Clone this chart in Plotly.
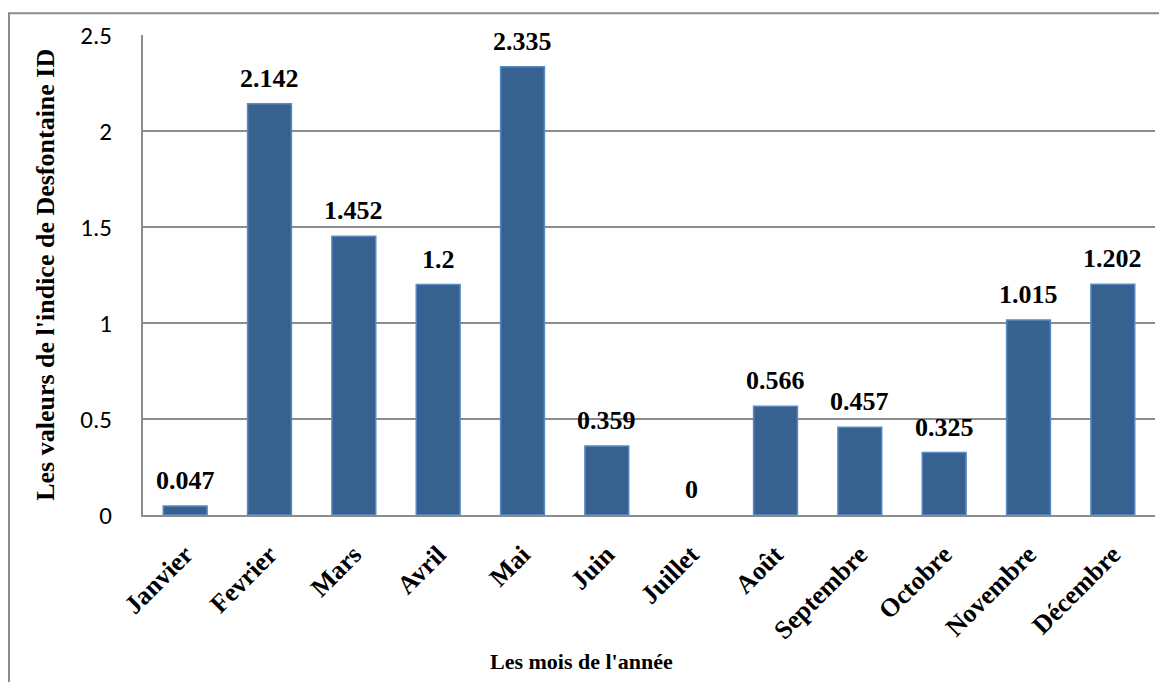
import plotly.graph_objects as go

months = ["Janvier", "Fevrier", "Mars", "Avril", "Mai", "Juin", "Juillet",
          "Août", "Septembre", "Octobre", "Novembre", "Décembre"]
values = [0.047, 2.142, 1.452, 1.2, 2.335, 0.359, 0, 0.566, 0.457, 0.325, 1.015, 1.202]
labels = ["0.047", "2.142", "1.452", "1.2", "2.335", "0.359", "0",
          "0.566", "0.457", "0.325", "1.015", "1.202"]
yticks = [0, 0.5, 1, 1.5, 2, 2.5]
ytick_text = ["0", "0.5", "1", "1.5", "2", "2.5"]

SERIF = "Liberation Serif, Times New Roman, serif"
SANS = "Liberation Sans Narrow, Carlito, Liberation Sans, sans-serif"

fig = go.Figure()
fig.add_trace(go.Bar(
    x=months, y=values,
    marker=dict(color="#37618F",
                line=dict(color="#5A8AC6", width=[0 if v == 0 else 1.5 for v in values])),
    hoverinfo="x+y",
))

for m, v, t in zip(months, values, labels):
    fig.add_annotation(x=m, y=v, text="<b>%s</b>" % t, showarrow=False,
                       yanchor="bottom", yshift=9,
                       font=dict(family=SERIF, size=26, color="#000000"))

fig.add_annotation(xref="paper", yref="paper", x=0.433, y=-0.306,
                   text="<b>Les mois de l'année</b>", showarrow=False,
                   xanchor="center", yanchor="middle",
                   font=dict(family=SERIF, size=22, color="#000000"))
fig.add_annotation(xref="paper", yref="paper", x=-0.097, y=0.5,
                   text="<b>Les valeurs de l'indice de Desfontaine ID</b>", showarrow=False,
                   textangle=-90, xanchor="center", yanchor="middle",
                   font=dict(family=SERIF, size=26, color="#000000"))

# outer chart border
fig.add_shape(type="rect", xref="paper", yref="paper",
              x0=-0.1324, y0=-0.40, x1=1.03, y1=1.0455,
              line=dict(color="#8C8C8C", width=2), layer="below")

fig.update_layout(
    width=1167, height=682,
    margin=dict(l=135, r=20, t=24, b=175),
    paper_bgcolor="white", plot_bgcolor="white",
    bargap=0.48, showlegend=False,
    xaxis=dict(
        tickangle=-45, showgrid=False, showline=True, linecolor="#8C8C8C", linewidth=2,
        tickmode="array", tickvals=months, ticktext=["<b>%s</b>" % m for m in months],
        tickfont=dict(family=SERIF, size=26, color="#000000"),
        ticks="", ticklabelstandoff=12,
    ),
    yaxis=dict(
        range=[0, 2.5], tickvals=yticks, ticktext=ytick_text,
        showgrid=True, gridcolor="#8C8C8C", gridwidth=1.5,
        showline=True, linecolor="#8C8C8C", linewidth=2,
        zeroline=False, ticks="", ticklabelstandoff=24,
        tickfont=dict(family=SANS, size=25, color="#000000"),
    ),
)

fig.write_html("out.html")
